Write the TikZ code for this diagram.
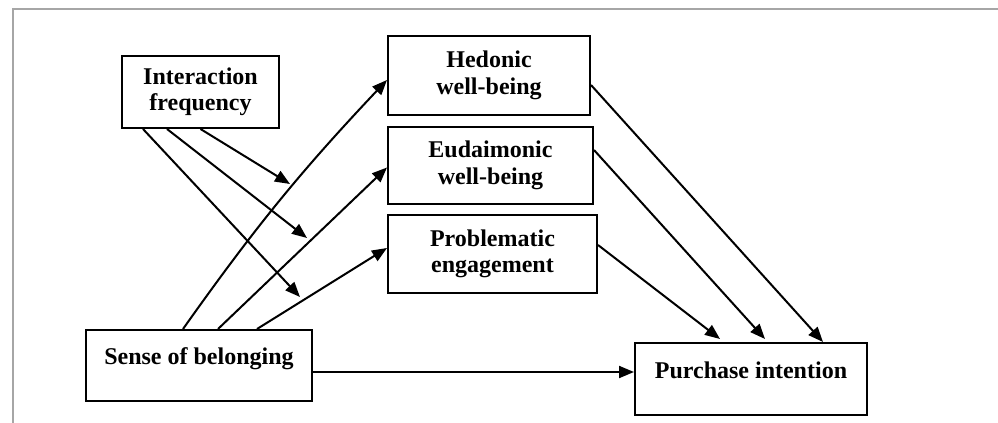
\documentclass[tikz,border=0pt]{standalone}
\usepackage{fontspec}
\setmainfont{Liberation Serif}
\usetikzlibrary{arrows.meta,calc}
\begin{document}
\begin{tikzpicture}[x=0.5pt,y=-0.5pt,
  box/.style={draw, line width=1pt, align=center, inner sep=0pt,
    font=\fontsize{12}{13.2}\selectfont\bfseries},
  low/.style={text height=9pt, text depth=10pt},
  arr/.style={line width=1pt, -{Triangle[length=7.5pt,width=6pt]}},
  frame/.style={gray!70, line width=0.6pt}]
\useasboundingbox (0,0) rectangle (998,423);
\draw[frame] (13,423) -- (13,9) -- (998,9);

\node[box, minimum width=78.5pt, minimum height=36pt] (if) at (200.5,92) {Interaction\\frequency};
\node[box, minimum width=101pt, minimum height=39.5pt] (hw) at (489,75.5) {Hedonic\\well-being};
\node[box, minimum width=102.5pt, minimum height=38.5pt] (ew) at (490.5,165.5) {Eudaimonic\\well-being};
\node[box, minimum width=104.5pt, minimum height=39pt] (pe) at (492.5,254) {Problematic\\engagement};
\node[box, low, minimum width=113pt, minimum height=35.5pt] (sb) at (199,365.5) {Sense of belonging};
\node[box, low, minimum width=116pt, minimum height=36pt] (pi) at (751,379) {Purchase intention};

\coordinate (m1) at (290,184);
\coordinate (m2) at (307,238);
\coordinate (m3) at (300,297);

% moderation arrows
\draw[arr] ($(if.south)+(0,0)$) -- (m1);
\draw[arr] ($(if.south)+(-33.5,0)$) -- (m2);
\draw[arr] ($(if.south)+(-57.5,0)$) -- (m3);

% sense of belonging to mediators
\draw[arr] ($(sb.north)+(-16,0)$) to[bend left=4] ($(hw.west)+(0,4.5)$);
\draw[arr] ($(sb.north)+(19,0)$) -- ($(ew.west)+(0,2)$);
\draw[arr] ($(sb.north)+(58,0)$) -- ($(pe.west)+(0,-6)$);

% mediators to purchase intention
\draw[arr] ($(hw.east)+(0,9.5)$) -- ($(pi.north)+(72,0)$);
\draw[arr] ($(ew.east)+(0,-15.5)$) -- ($(pi.north)+(14,-3)$);
\draw[arr] ($(pe.east)+(0,-9)$) -- ($(pi.north)+(-31,-3)$);

% direct effect
\draw[arr] ($(sb.east)+(0,6.5)$) -- ($(pi.west)+(0,-7)$);
\end{tikzpicture}
\end{document}
